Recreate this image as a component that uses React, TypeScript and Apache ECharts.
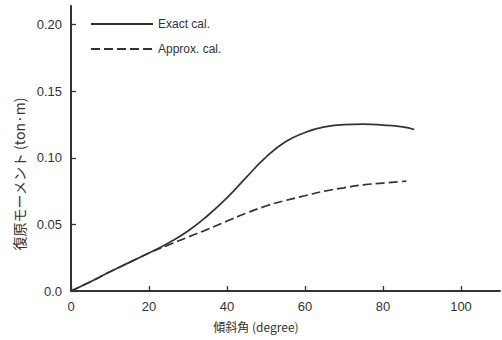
import React, { useEffect, useRef } from "react";
import * as echarts from "echarts";

const exactX = [0, 5, 10, 15, 20, 25, 30, 35, 40, 45, 50, 55, 60, 65, 70, 75, 80, 85, 88];
const exactY = [0, 0.007, 0.0145, 0.0215, 0.0285, 0.036, 0.045, 0.0565, 0.07, 0.0855, 0.1005, 0.112, 0.119, 0.1232, 0.125, 0.1253, 0.1246, 0.1232, 0.1213];
const approxX = [0, 5, 10, 15, 20, 25, 30, 35, 40, 45, 50, 55, 60, 65, 70, 75, 80, 86];
const approxY = [0, 0.007, 0.0145, 0.0215, 0.0285, 0.0345, 0.0405, 0.0463, 0.0525, 0.0585, 0.0638, 0.068, 0.0715, 0.075, 0.0775, 0.0797, 0.081, 0.0825];
const xTicks = [0, 20, 40, 60, 80, 100];
const yTicks = [0, 0.05, 0.1, 0.15, 0.2];
const seriesNames = ["Exact cal.", "Approx. cal."];

const ink = "#333";
const font = "'Liberation Sans', Arial, sans-serif";
const cjk = "'Noto Sans CJK JP', 'Liberation Sans', sans-serif";

export default function App() {
  const ref = useRef<HTMLDivElement>(null);
  useEffect(() => {
    if (!ref.current) return;
    const chart = echarts.init(ref.current, undefined, { renderer: "svg" });
    chart.setOption({
      animation: false,
      backgroundColor: "#fff",
      grid: { left: 71, right: 2, top: 6, bottom: 49 },
      legend: {
        orient: "vertical",
        left: 85,
        top: 13,
        itemWidth: 62,
        itemHeight: 14,
        itemGap: 13,
        itemStyle: { opacity: 0 },
        textStyle: { fontFamily: font, fontSize: 12, color: "#333" },
        data: seriesNames,
      },
      xAxis: {
        type: "value",
        min: 0,
        max: 110,
        interval: 20,
        splitLine: { show: false },
        axisLine: { show: true, lineStyle: { color: ink, width: 2 } },
        axisTick: { show: true, inside: true, length: 5, lineStyle: { color: ink, width: 1.3 }, customValues: xTicks },
        axisLabel: { customValues: xTicks, color: "#333", fontFamily: font, fontSize: 13, margin: 9 },
      },
      yAxis: {
        type: "value",
        min: 0,
        max: 0.214,
        interval: 0.05,
        splitLine: { show: false },
        axisLine: { show: true, lineStyle: { color: ink, width: 2 } },
        axisTick: { show: true, inside: true, length: 5, lineStyle: { color: ink, width: 1.3 }, customValues: yTicks },
        axisLabel: {
          customValues: yTicks,
          color: "#333",
          fontFamily: font,
          fontSize: 13,
          margin: 9,
          formatter: (v: number) => (v === 0 ? "0.0" : v.toFixed(2)),
        },
      },
      series: [
        {
          name: seriesNames[0],
          type: "line",
          smooth: true,
          symbol: "none",
          lineStyle: { color: ink, width: 1.7, type: "solid" },
          itemStyle: { color: ink },
          data: exactX.map((x, i) => [x, exactY[i]]),
        },
        {
          name: seriesNames[1],
          type: "line",
          smooth: true,
          symbol: "none",
          lineStyle: { color: ink, width: 1.7, type: [9, 4] },
          itemStyle: { color: ink },
          data: approxX.map((x, i) => [x, approxY[i]]),
        },
      ],
      graphic: [
        {
          type: "text",
          x: 19,
          y: 174,
          rotation: Math.PI / 2,
          style: {
            text: "復原モーメント (ton·m)",
            fontFamily: cjk,
            fontSize: 14,
            fill: "#333",
            align: "center",
            verticalAlign: "middle",
          },
        },
        {
          type: "text",
          x: 256,
          y: 326,
          style: {
            text: "傾斜角 (degree)",
            fontFamily: cjk,
            fontSize: 12,
            fill: "#333",
            align: "center",
            verticalAlign: "middle",
          },
        },
      ],
    });
    return () => chart.dispose();
  }, []);
  return <div ref={ref} style={{ position: "fixed", left: 0, top: 0, width: 502, height: 340 }} />;
}
